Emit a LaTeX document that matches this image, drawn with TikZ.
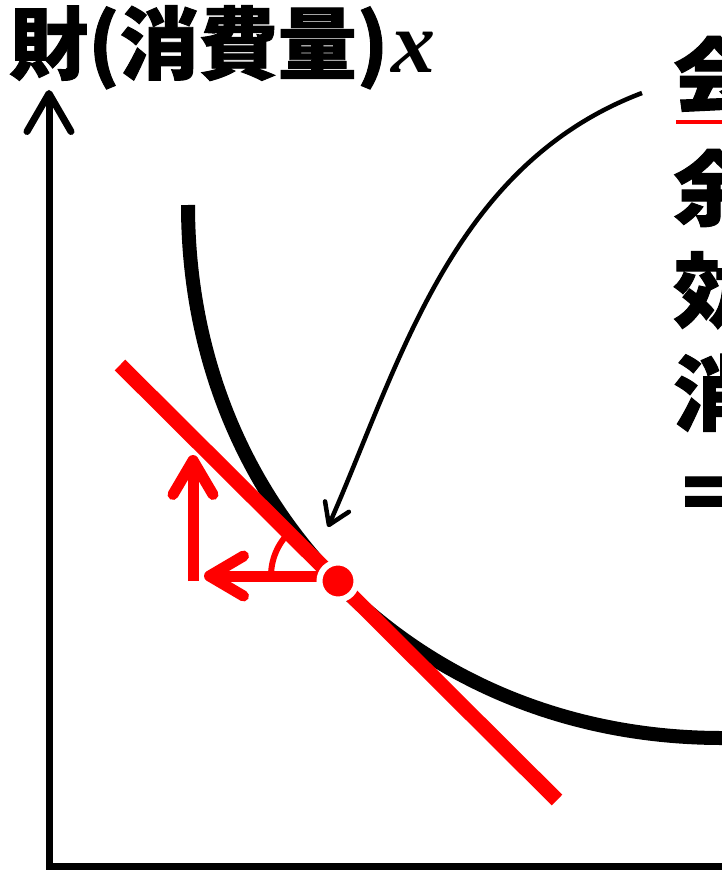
\documentclass[tikz,border=0pt]{standalone}
\usepackage{fontspec}
\newfontfamily\cjk{Noto Sans CJK JP}[BoldFeatures={FakeBold=1.2}]
\newfontfamily\serifx{Liberation Serif}
\usetikzlibrary{arrows.meta}
\begin{document}
\begin{tikzpicture}[x=1pt,y=-1pt,
  axis/.style={line width=7pt},
  icurve/.style={line width=14pt},
  tangent/.style={red, line width=15pt},
  redarrow/.style={red, line width=11pt, -{Straight Barb[length=34pt,width=40pt,round]}},
  callout/.style={line width=4.5pt, -{Straight Barb[length=20pt,width=26pt,round]}},
  titletext/.style={font=\cjk\bfseries\fontsize{79}{79}\selectfont, inner sep=0pt, anchor=base west},
  xtext/.style={font=\serifx\bfseries\itshape\fontsize{88}{88}\selectfont, inner sep=0pt, anchor=base west},
  sidetext/.style={font=\cjk\bfseries\fontsize{82}{82}\selectfont, inner sep=0pt, anchor=base west},
]
\useasboundingbox (0,0) rectangle (722,896);
\begin{scope}
\clip (0,0) rectangle (722,896);

% axes
\coordinate (ytop) at (49,90);
\coordinate (origin) at (49,866);
\coordinate (xend) at (740,866);
\draw[axis, {Straight Barb[length=38pt,width=44pt,round]}-] (ytop) -- (origin) -- (xend);

% indifference curve
\coordinate (ctop) at (188,205);
\coordinate (cend) at (722,738);
\coordinate (cout) at (745,738);
\draw[icurve] (ctop) .. controls (188,510) and (417,738) .. (cend) -- (cout);

% tangent line
\coordinate (tA) at (120,365);
\coordinate (tB) at (557,800);
\draw[tangent] (tA) -- (tB);

% right-angle arrows and angle mark
\coordinate (vbase) at (193,581);
\coordinate (vtip) at (193,455);
\coordinate (hstart) at (330,576);
\coordinate (htip) at (204,576);
\coordinate (vertex) at (332,576);
\draw[redarrow] (vbase) -- (vtip);
\draw[redarrow] (hstart) -- (htip);
\draw[red, line width=6pt] (vertex) ++(180:61) arc[start angle=180, end angle=226, radius=61];

% tangency point
\node[circle, fill=red, draw=white, line width=6pt, minimum size=37pt, inner sep=0pt] (E) at (338,581) {};

% callout arrow
\coordinate (cs) at (642,93);
\coordinate (ce) at (328,527);
\draw[callout] (cs) .. controls (452,165) and (400,363) .. (ce);

% right-hand text (cut off by the frame, as in the reference)
\node[sidetext] (r1) at (673,106) {会};
\node[sidetext] (r2) at (673,219) {余};
\node[sidetext] (r3) at (673,321) {効};
\node[sidetext] (r4) at (673,424) {消};
\node[sidetext] (r5) at (673,524) {＝};
\draw[red, line width=4pt] (676,122) -- (740,122);
\end{scope}

% title
\node[titletext] (title) at (9,73) {財(消費量)};
\node[xtext] (xlab) at (391,73) {x};
\end{tikzpicture}
\end{document}
